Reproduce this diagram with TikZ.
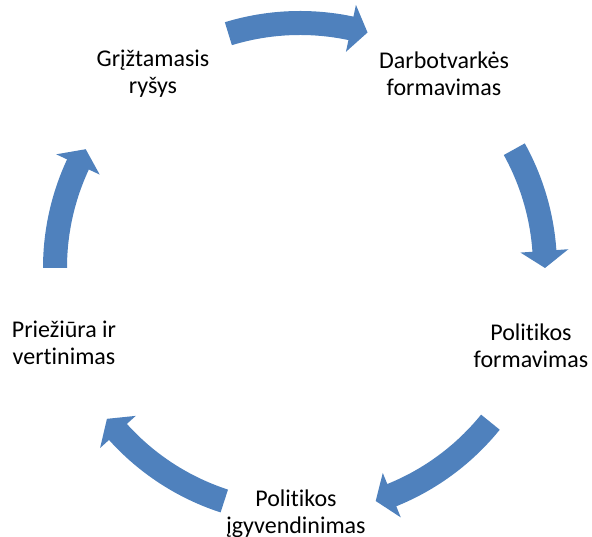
\documentclass[tikz,border=0pt]{standalone}
\usepackage{fontspec}
\setmainfont[Ligatures={NoCommon}]{Carlito}
\definecolor{arrowblue}{HTML}{4F81BD}
\tikzset{
  lbl/.style={align=center, font=\fontsize{24}{27}\selectfont, text=black, inner sep=0pt},
  cyclearrow/.style={fill=arrowblue}
}
\begin{document}
\begin{tikzpicture}[x=1pt,y=1pt]
\useasboundingbox (0,0) rectangle (592,537);
\begin{scope}[shift={(300,269)}]
\foreach \ta/\tb/\tc in {107/78/74, 29/4/0, -39/-68/-72, -108/-138/-142, 180/155/151}{
  \fill[cyclearrow] (\ta:257) arc[start angle=\ta, end angle=\tb, radius=257]
    -- (\tb:269) -- (\tc:245) -- (\tb:221) -- (\tb:233)
    arc[start angle=\tb, end angle=\ta, radius=233] -- cycle;
}
\end{scope}
\node[lbl] (feedback) at (153,463) {Grįžtamasis\\ryšys};
\node[lbl] (agenda) at (444,463) {Darbotvarkės\\formavimas};
\node[lbl] (policy) at (531,191) {Politikos\\formavimas};
\node[lbl] (implement) at (296,23) {Politikos\\įgyvendinimas};
\node[lbl] (monitor) at (64,194) {Priežiūra ir\\vertinimas};
\end{tikzpicture}
\end{document}
